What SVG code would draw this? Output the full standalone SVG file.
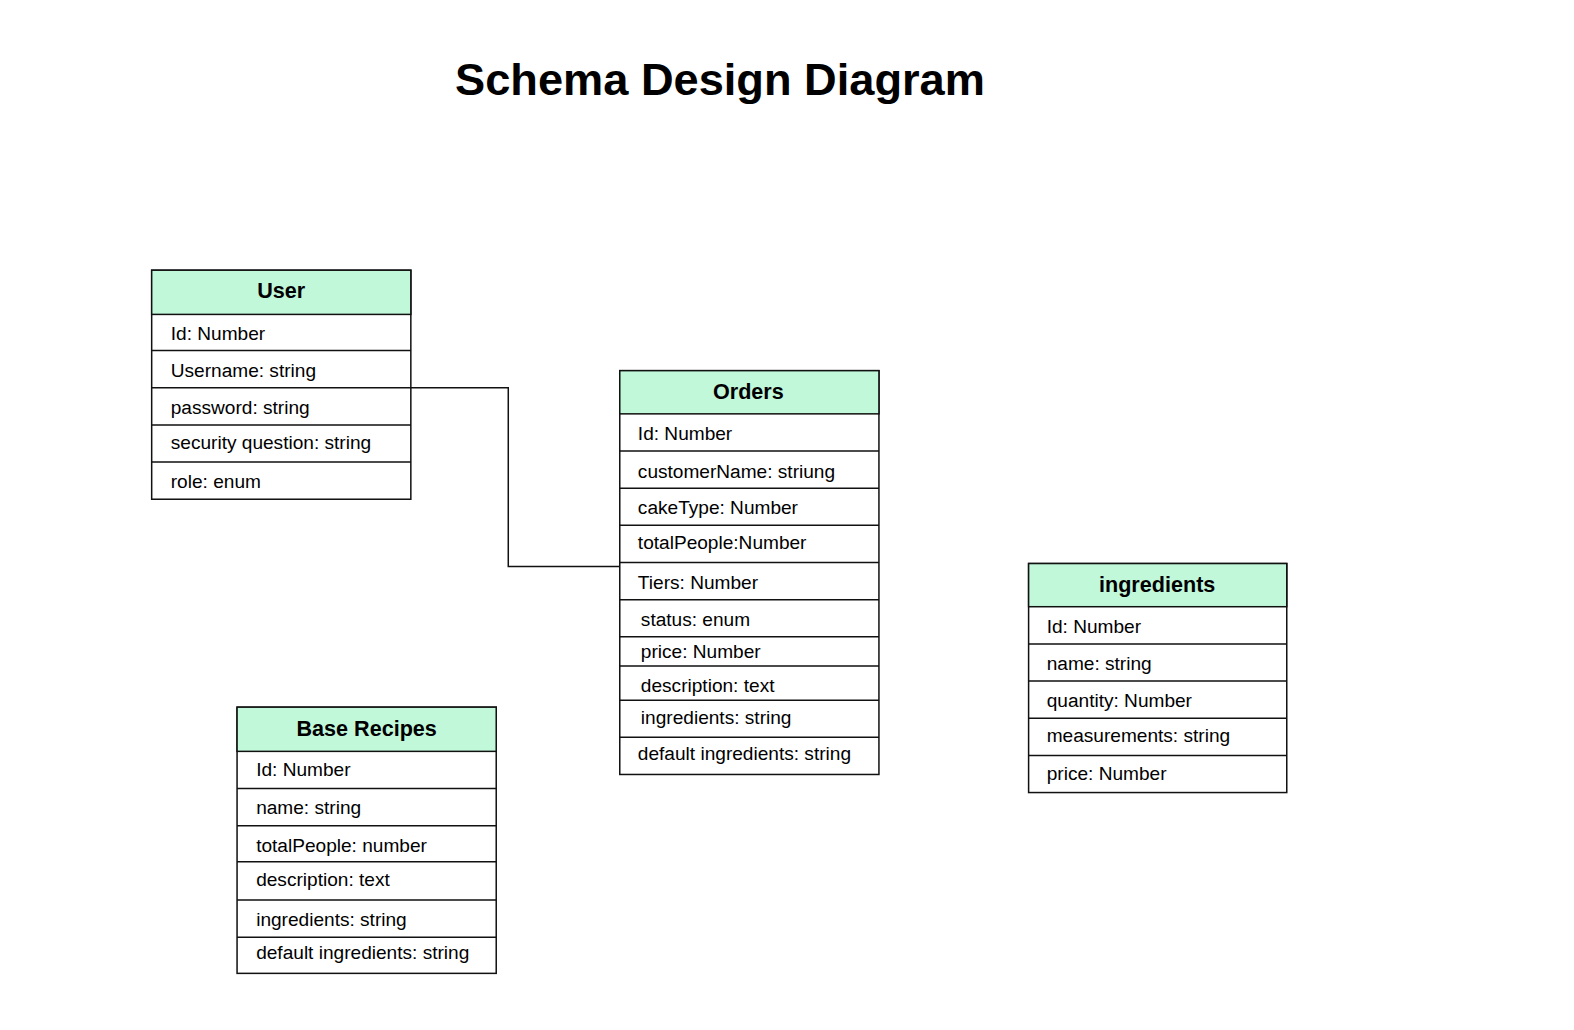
<svg xmlns="http://www.w3.org/2000/svg" width="1574" height="1030" viewBox="0 0 1574 1030">
<style>
.bg{fill:#ffffff}
.hd{fill:#c1f8da;stroke:#111;stroke-width:1.5}
.box{fill:#ffffff;stroke:#111;stroke-width:1.5}
.ln{stroke:#111;stroke-width:1.5;fill:none}
.title{font-family:"Liberation Sans",Arial,sans-serif;font-weight:bold;font-size:45px;fill:#000}
.th{font-family:"Liberation Sans",Arial,sans-serif;font-weight:bold;font-size:21.5px;fill:#000;text-anchor:middle}
.tr{font-family:"Liberation Sans",Arial,sans-serif;font-size:19px;fill:#000}
</style>
<rect class="bg" x="0" y="0" width="1574" height="1030"/>
<g transform="scale(1.0045)">
<text class="title" x="453" y="95">Schema Design Diagram</text>

<g id="connectors">
<path class="ln" d="M403 386 H506 V564 H617"/>
</g>

<g id="user">
<rect class="box" x="151" y="269" width="258" height="228"/>
<rect class="hd" x="151" y="269" width="258" height="44"/>
<path class="ln" d="M151 349 H409 M151 386 H409 M151 423 H409 M151 460 H409"/>
<text class="th" x="280" y="297">User</text>
<text class="tr" x="170" y="338">Id: Number</text>
<text class="tr" x="170" y="375">Username: string</text>
<text class="tr" x="170" y="412">password: string</text>
<text class="tr" x="170" y="447">security question: string</text>
<text class="tr" x="170" y="486">role: enum</text>
</g>

<g id="orders">
<rect class="box" x="617" y="369" width="258" height="402"/>
<rect class="hd" x="617" y="369" width="258" height="43"/>
<path class="ln" d="M617 449 H875 M617 486 H875 M617 523 H875 M617 560 H875 M617 597 H875 M617 634 H875 M617 663 H875 M617 697 H875 M617 734 H875"/>
<text class="th" x="745" y="397">Orders</text>
<text class="tr" x="635" y="438">Id: Number</text>
<text class="tr" x="635" y="476">customerName: striung</text>
<text class="tr" x="635" y="512">cakeType: Number</text>
<text class="tr" x="635" y="547">totalPeople:Number</text>
<text class="tr" x="635" y="586">Tiers: Number</text>
<text class="tr" x="638" y="623">status: enum</text>
<text class="tr" x="638" y="655">price: Number</text>
<text class="tr" x="638" y="689">description: text</text>
<text class="tr" x="638" y="721">ingredients: string</text>
<text class="tr" x="635" y="757">default ingredients: string</text>
</g>

<g id="ingredients">
<rect class="box" x="1024" y="561" width="257" height="228"/>
<rect class="hd" x="1024" y="561" width="257" height="43"/>
<path class="ln" d="M1024 641 H1281 M1024 678 H1281 M1024 715 H1281 M1024 752 H1281"/>
<text class="th" x="1152" y="589">ingredients</text>
<text class="tr" x="1042" y="630">Id: Number</text>
<text class="tr" x="1042" y="667">name: string</text>
<text class="tr" x="1042" y="704">quantity: Number</text>
<text class="tr" x="1042" y="739">measurements: string</text>
<text class="tr" x="1042" y="777">price: Number</text>
</g>

<g id="base-recipes">
<rect class="box" x="236" y="704" width="258" height="265"/>
<rect class="hd" x="236" y="704" width="258" height="44"/>
<path class="ln" d="M236 785 H494 M236 822 H494 M236 858 H494 M236 896 H494 M236 933 H494"/>
<text class="th" x="365" y="733">Base Recipes</text>
<text class="tr" x="255" y="773">Id: Number</text>
<text class="tr" x="255" y="810">name: string</text>
<text class="tr" x="255" y="848">totalPeople: number</text>
<text class="tr" x="255" y="882">description: text</text>
<text class="tr" x="255" y="922">ingredients: string</text>
<text class="tr" x="255" y="955">default ingredients: string</text>
</g>
</g>
</svg>
